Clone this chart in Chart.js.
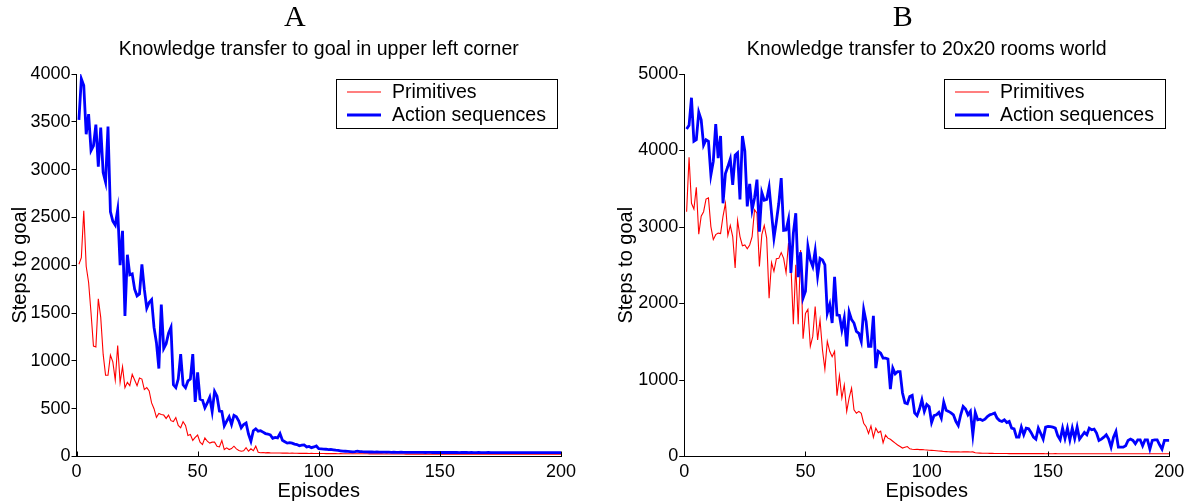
<!DOCTYPE html>
<html>
<head>
<meta charset="utf-8">
<title>Knowledge transfer</title>
<script src="https://cdn.jsdelivr.net/npm/chart.js@4.4.0/dist/chart.umd.min.js"></script>
<style>
  html, body { margin: 0; padding: 0; background: #fff; }
  #wrap { position: relative; width: 1199px; height: 503px; overflow: hidden; }
  .panel { position: absolute; top: 0; }
  #panelA { left: 0; }
  #panelB { left: 602px; }
</style>
</head>
<body>
<div id="wrap">
  <div class="panel" id="panelA"><canvas id="chartA" width="590" height="503"></canvas></div>
  <div class="panel" id="panelB"><canvas id="chartB" width="597" height="503"></canvas></div>
</div>
<script>
// episode index shared by every series (one value per episode)
const episodes = Array.from({ length: 200 }, (_, i) => i + 1);

const seriesLabels = ['Primitives', 'Action sequences'];
const xTicks = [0, 50, 100, 150, 200];
const yTicksA = [0, 500, 1000, 1500, 2000, 2500, 3000, 3500, 4000];
const yTicksB = [0, 1000, 2000, 3000, 4000, 5000];

// panel A: goal in upper left corner
const primitivesA = [
  2010, 2080, 2570, 1990, 1820, 1500, 1155, 1145, 1650, 1455,
  1070, 850, 850, 1060, 990, 800, 1160, 775, 940, 720,
  775, 740, 860, 800, 740, 820, 810, 700, 720, 685,
  560, 500, 410, 450, 440, 433, 398, 433, 375, 365,
  408, 325, 300, 365, 325, 220, 230, 168, 200, 225,
  150, 125, 195, 160, 140, 150, 150, 108, 100, 168,
  73, 90, 73, 83, 108, 80, 63, 55, 60, 92,
  55, 80, 60, 108, 45, 40, 42, 38, 40, 38,
  37, 36, 37, 36, 35, 36, 35, 34, 35, 34,
  34, 33, 34, 33, 33, 32, 33, 32, 32, 31,
  31, 31, 30, 31, 30, 30, 30, 29, 30, 29,
  29, 29, 29, 28, 29, 28, 28, 28, 28, 28,
  27, 28, 27, 27, 27, 27, 26, 27, 26, 26,
  26, 26, 26, 26, 26, 25, 26, 25, 25, 25,
  25, 25, 25, 25, 25, 25, 25, 24, 25, 24,
  24, 24, 24, 24, 24, 24, 24, 24, 24, 24,
  24, 24, 23, 24, 24, 23, 24, 23, 24, 23,
  23, 24, 23, 23, 23, 24, 23, 23, 23, 23,
  23, 23, 23, 23, 23, 23, 23, 23, 23, 23,
  23, 23, 23, 23, 23, 23, 23, 23, 23, 23
];
const actionSeqA = [
  3520, 3950, 3880, 3370, 3580, 3200, 3250, 3470, 3030, 3440,
  2970, 2870, 3450, 2560, 2460, 2420, 2580, 2000, 2360, 1470,
  2110, 1900, 1910, 1750, 1680, 1700, 2010, 1750, 1550, 1610,
  1640, 1350, 1190, 920, 1590, 1130, 1180, 1290, 1350, 750,
  720, 810, 1070, 750, 720, 790, 810, 1070, 570, 880,
  600, 590, 510, 560, 620, 470, 680, 630, 475, 470,
  320, 370, 415, 335, 430, 415, 370, 300, 335, 350,
  235, 160, 270, 290, 265, 270, 255, 240, 235, 225,
  190, 200, 195, 240, 170, 155, 140, 145, 140, 130,
  125, 112, 118, 120, 100, 105, 92, 100, 110, 82,
  80, 78, 76, 72, 74, 70, 66, 64, 60, 56,
  55, 54, 52, 49, 50, 55, 52, 50, 49, 48,
  47, 48, 46, 47, 46, 45, 46, 45, 45, 44,
  45, 44, 44, 45, 44, 43, 44, 44, 43, 43,
  44, 43, 43, 42, 43, 43, 42, 43, 42, 42,
  43, 42, 42, 42, 43, 42, 42, 41, 42, 42,
  42, 41, 42, 41, 41, 42, 41, 41, 41, 42,
  41, 41, 41, 40, 41, 41, 40, 41, 40, 41,
  40, 41, 40, 40, 41, 40, 40, 40, 41, 40,
  40, 40, 40, 41, 40, 40, 40, 40, 40, 40
];

// panel B: 20x20 rooms world
const primitivesB = [
  3200, 3910, 3310, 3235, 3520, 2905, 3140, 3200, 3365, 3380,
  3005, 2835, 2900, 2920, 2915, 3140, 3310, 2890, 3020, 2875,
  2465, 3085, 2875, 2755, 2765, 2715, 2765, 2875, 3225, 3180,
  2485, 2900, 3020, 2855, 2070, 2535, 2420, 2585, 2590, 2665,
  2590, 2400, 2790, 2505, 1730, 2505, 1730, 2700, 1540, 1870,
  1925, 1440, 1570, 1960, 1525, 1785, 1395, 1140, 1505, 1375,
  1305, 1375, 795, 1055, 765, 935, 590, 765, 895, 610,
  565, 590, 565, 435, 390, 300, 400, 250, 370, 310,
  330, 180, 280, 240, 225, 200, 175, 150, 130, 110,
  120, 130, 100, 95, 92, 95, 90, 92, 88, 85,
  82, 80, 78, 75, 72, 70, 66, 64, 62, 60,
  60, 62, 60, 58, 60, 62, 60, 58, 60, 50,
  45, 44, 43, 42, 42, 41, 41, 40, 40, 40,
  39, 39, 39, 38, 39, 38, 38, 38, 38, 38,
  38, 37, 38, 37, 37, 37, 37, 37, 36, 37,
  36, 36, 37, 36, 36, 36, 36, 36, 36, 36,
  36, 35, 36, 36, 35, 36, 35, 36, 35, 35,
  35, 36, 35, 35, 35, 35, 35, 35, 35, 35,
  35, 35, 35, 35, 35, 35, 35, 35, 35, 35,
  35, 35, 35, 35, 35, 35, 35, 35, 35, 35
];
const actionSeqB = [
  4280, 4330, 4690, 4120, 4140, 4500, 4400, 4070, 4140, 4120,
  3680, 3860, 4345, 3900, 4190, 3310, 3700, 3790, 3890, 3550,
  3940, 3970, 3360, 4190, 3990, 3270, 3565, 3225, 3380, 3620,
  2940, 3450, 3350, 3360, 3520, 3180, 2855, 3070, 3310, 3640,
  2955, 2960, 3100, 2400, 2920, 3180, 2345, 2670, 2070, 2160,
  2745, 2570, 2485, 2690, 2360, 2590, 2570, 2505, 1875, 1985,
  1745, 2350, 1850, 1845, 1655, 1810, 1440, 1890, 1790, 1745,
  1635, 1610, 1505, 1920, 1765, 1440, 1440, 1840, 1155, 1375,
  1350, 1285, 1285, 1275, 880, 1155, 1080, 1110, 1110, 830,
  700, 690, 785, 800, 570, 535, 620, 740, 590, 680,
  650, 445, 535, 545, 575, 500, 710, 605, 590, 570,
  545, 460, 405, 545, 654, 620, 545, 590, 284, 575,
  480, 488, 471, 488, 523, 545, 555, 567, 502, 470,
  458, 480, 445, 458, 371, 362, 253, 253, 384, 284,
  371, 362, 314, 253, 227, 371, 300, 227, 384, 393,
  390, 384, 371, 271, 218, 371, 236, 371, 218, 371,
  236, 384, 227, 271, 314, 284, 371, 349, 358, 306,
  210, 227, 253, 284, 227, 122, 253, 327, 122, 122,
  122, 140, 210, 227, 210, 166, 218, 218, 140, 218,
  218, 97, 210, 218, 218, 153, 97, 210, 210, 210
];

const FONT = "'Liberation Sans', Arial, Helvetica, sans-serif";
Chart.defaults.font.family = FONT;
Chart.defaults.color = '#000';

// panel letter above the heading, a bit left of the plot centre
const panelLetter = {
  id: 'panelLetter',
  afterDraw(chart, args, opts) {
    const { ctx, chartArea } = chart;
    ctx.save();
    ctx.font = opts.fontSize + "px 'Liberation Serif', 'Times New Roman', serif";
    ctx.fillStyle = '#000';
    ctx.textAlign = 'center';
    ctx.textBaseline = 'middle';
    ctx.fillText(opts.text, (chartArea.left + chartArea.right) / 2 + opts.dx, opts.y);
    ctx.restore();
  }
};

// MATLAB-style legend: white box with black frame in the top right corner
const boxLegend = {
  id: 'boxLegend',
  afterDraw(chart, args, opts) {
    const { ctx, chartArea } = chart;
    const x = Math.round(chartArea.right - opts.right - opts.width);
    const y = Math.round(chartArea.top + opts.top);
    ctx.save();
    ctx.fillStyle = '#fff';
    ctx.fillRect(x, y, opts.width, opts.height);
    ctx.strokeStyle = '#000';
    ctx.lineWidth = 1;
    ctx.strokeRect(x + 0.5, y + 0.5, opts.width, opts.height);
    ctx.font = opts.fontSize + 'px ' + FONT;
    ctx.textBaseline = 'middle';
    chart.data.datasets.forEach((ds, i) => {
      const ly = y + opts.rowTop + i * opts.rowGap;
      ctx.strokeStyle = ds.borderColor;
      ctx.lineWidth = ds.borderWidth;
      ctx.beginPath();
      ctx.moveTo(x + opts.lineStart, ly);
      ctx.lineTo(x + opts.lineEnd, ly);
      ctx.stroke();
      ctx.fillStyle = '#000';
      ctx.fillText(ds.label, x + opts.textStart, ly + 1);
    });
    ctx.restore();
  }
};

// x ticks point into the plot
const inwardTicks = {
  id: 'inwardTicks',
  afterDatasetsDraw(chart) {
    const { ctx, chartArea } = chart;
    const sx = chart.scales.x;
    ctx.save();
    ctx.strokeStyle = '#000';
    ctx.lineWidth = 1;
    sx.ticks.forEach(t => {
      const px = Math.round(sx.getPixelForValue(t.value)) + 0.5;
      ctx.beginPath();
      ctx.moveTo(px, chartArea.bottom);
      ctx.lineTo(px, chartArea.bottom - 5);
      ctx.stroke();
    });
    ctx.restore();
  }
};

function toPoints(values) {
  return values.map((v, i) => ({ x: episodes[i], y: v }));
}

function makePanel(canvasId, letter, heading, prim, action, yTicks, axisWidth, padRight, yTitlePad) {
  const yMax = yTicks[yTicks.length - 1];
  return new Chart(document.getElementById(canvasId).getContext('2d'), {
    type: 'line',
    data: {
      datasets: [
        {
          label: seriesLabels[0],
          data: toPoints(prim),
          borderColor: '#ff0000',
          borderWidth: 1.1,
          pointRadius: 0,
          tension: 0,
          order: 1
        },
        {
          label: seriesLabels[1],
          data: toPoints(action),
          borderColor: '#0000ff',
          borderWidth: 2.8,
          pointRadius: 0,
          tension: 0,
          order: 0
        }
      ]
    },
    options: {
      responsive: false,
      animation: false,
      devicePixelRatio: 1,
      layout: { padding: { left: 0, right: padRight, top: 0, bottom: 0 } },
      plugins: {
        legend: { display: false },
        tooltip: { enabled: false },
        title: { display: false },
        subtitle: {
          display: true,
          text: heading,
          fullSize: false,
          color: '#000',
          font: { size: 19.5 },
          padding: { top: 38, bottom: 12.6 }
        },
        panelLetter: { text: letter, fontSize: 30, dx: -24, y: 18 },
        boxLegend: {
          right: 4, top: 5, width: 221, height: 49,
          rowTop: 13, rowGap: 23,
          lineStart: 11, lineEnd: 45, textStart: 56,
          fontSize: 19.5
        }
      },
      scales: {
        x: {
          type: 'linear',
          min: 0,
          max: 200,
          afterFit: s => { s.height = 46.5; },
          afterBuildTicks: s => { s.ticks = xTicks.map(v => ({ value: v })); },
          border: { display: true, color: '#000', width: 1 },
          grid: { display: true, drawOnChartArea: false, drawTicks: false },
          ticks: { autoSkip: false, maxRotation: 0, padding: 5, font: { size: 18 }, callback: v => String(v) },
          title: { display: true, text: 'Episodes', font: { size: 20 }, padding: { top: 0, bottom: 0 } }
        },
        y: {
          type: 'linear',
          min: 0,
          max: yMax,
          afterFit: s => { s.width = axisWidth; },
          afterBuildTicks: s => { s.ticks = yTicks.map(v => ({ value: v })); },
          border: { display: true, color: '#000', width: 1 },
          grid: { display: true, drawOnChartArea: false, drawTicks: true, tickLength: 5, tickColor: '#000' },
          ticks: { padding: 1, font: { size: 18 }, callback: v => String(v) },
          title: { display: true, text: 'Steps to goal', font: { size: 20 }, padding: { top: yTitlePad, bottom: 0 } }
        }
      }
    },
    plugins: [panelLetter, boxLegend, inwardTicks]
  });
}

makePanel('chartA', 'A', 'Knowledge transfer to goal in upper left corner',
  primitivesA, actionSeqA, yTicksA, 76.5, 29, 8);
makePanel('chartB', 'B', 'Knowledge transfer to 20x20 rooms world',
  primitivesB, actionSeqB, yTicksB, 82.2, 29.7, 12);
</script>
</body>
</html>
